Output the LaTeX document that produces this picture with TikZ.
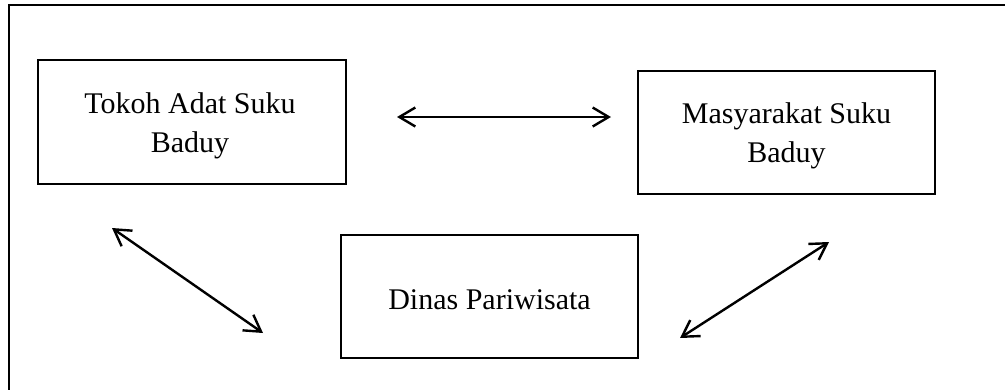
\documentclass[tikz,border=0pt]{standalone}
\usepackage{fontspec}
\setmainfont{Liberation Serif}
\usetikzlibrary{arrows.meta}
\begin{document}
\begin{tikzpicture}[x=1pt,y=-1pt,
  boxn/.style={draw,line width=2.3pt,minimum width=#1,inner sep=0pt},
  lbl/.style={font=\fontsize{30}{39}\selectfont,align=center,inner sep=0pt},
  link/.style={line width=2.4pt,{Straight Barb[length=16pt,width=19pt,line width=2.4pt]}-{Straight Barb[length=16pt,width=19pt,line width=2.4pt]}}]
\useasboundingbox (0,0) rectangle (1005,389);
\clip (0,0) rectangle (1005,389);
\draw[line width=2.3pt] (9,5) rectangle (1020,400);
\node[boxn=308pt,minimum height=124pt] (b1) at (192,122) {};
\node[boxn=297pt,minimum height=123pt] (b2) at (786.5,132.5) {};
\node[boxn=297pt,minimum height=123pt] (b3) at (489.5,296.5) {};
\node[lbl] (t1) at ([yshift=-3.5pt,xshift=-2pt]b1.center) {Tokoh Adat Suku\\Baduy};
\node[lbl] (t2) at ([yshift=-3.5pt]b2.center) {Masyarakat Suku\\Baduy};
\node[lbl] (t3) at ([yshift=-3.5pt]b3.center) {Dinas Pariwisata};
\coordinate (a1) at (397,117);
\coordinate (a2) at (611,117);
\coordinate (c1) at (112,228);
\coordinate (c2) at (263,333);
\coordinate (d1) at (680,338);
\coordinate (d2) at (829,242);
\draw[link] (a1) -- (a2);
\draw[link] (c1) -- (c2);
\draw[link] (d1) -- (d2);
\end{tikzpicture}
\end{document}
